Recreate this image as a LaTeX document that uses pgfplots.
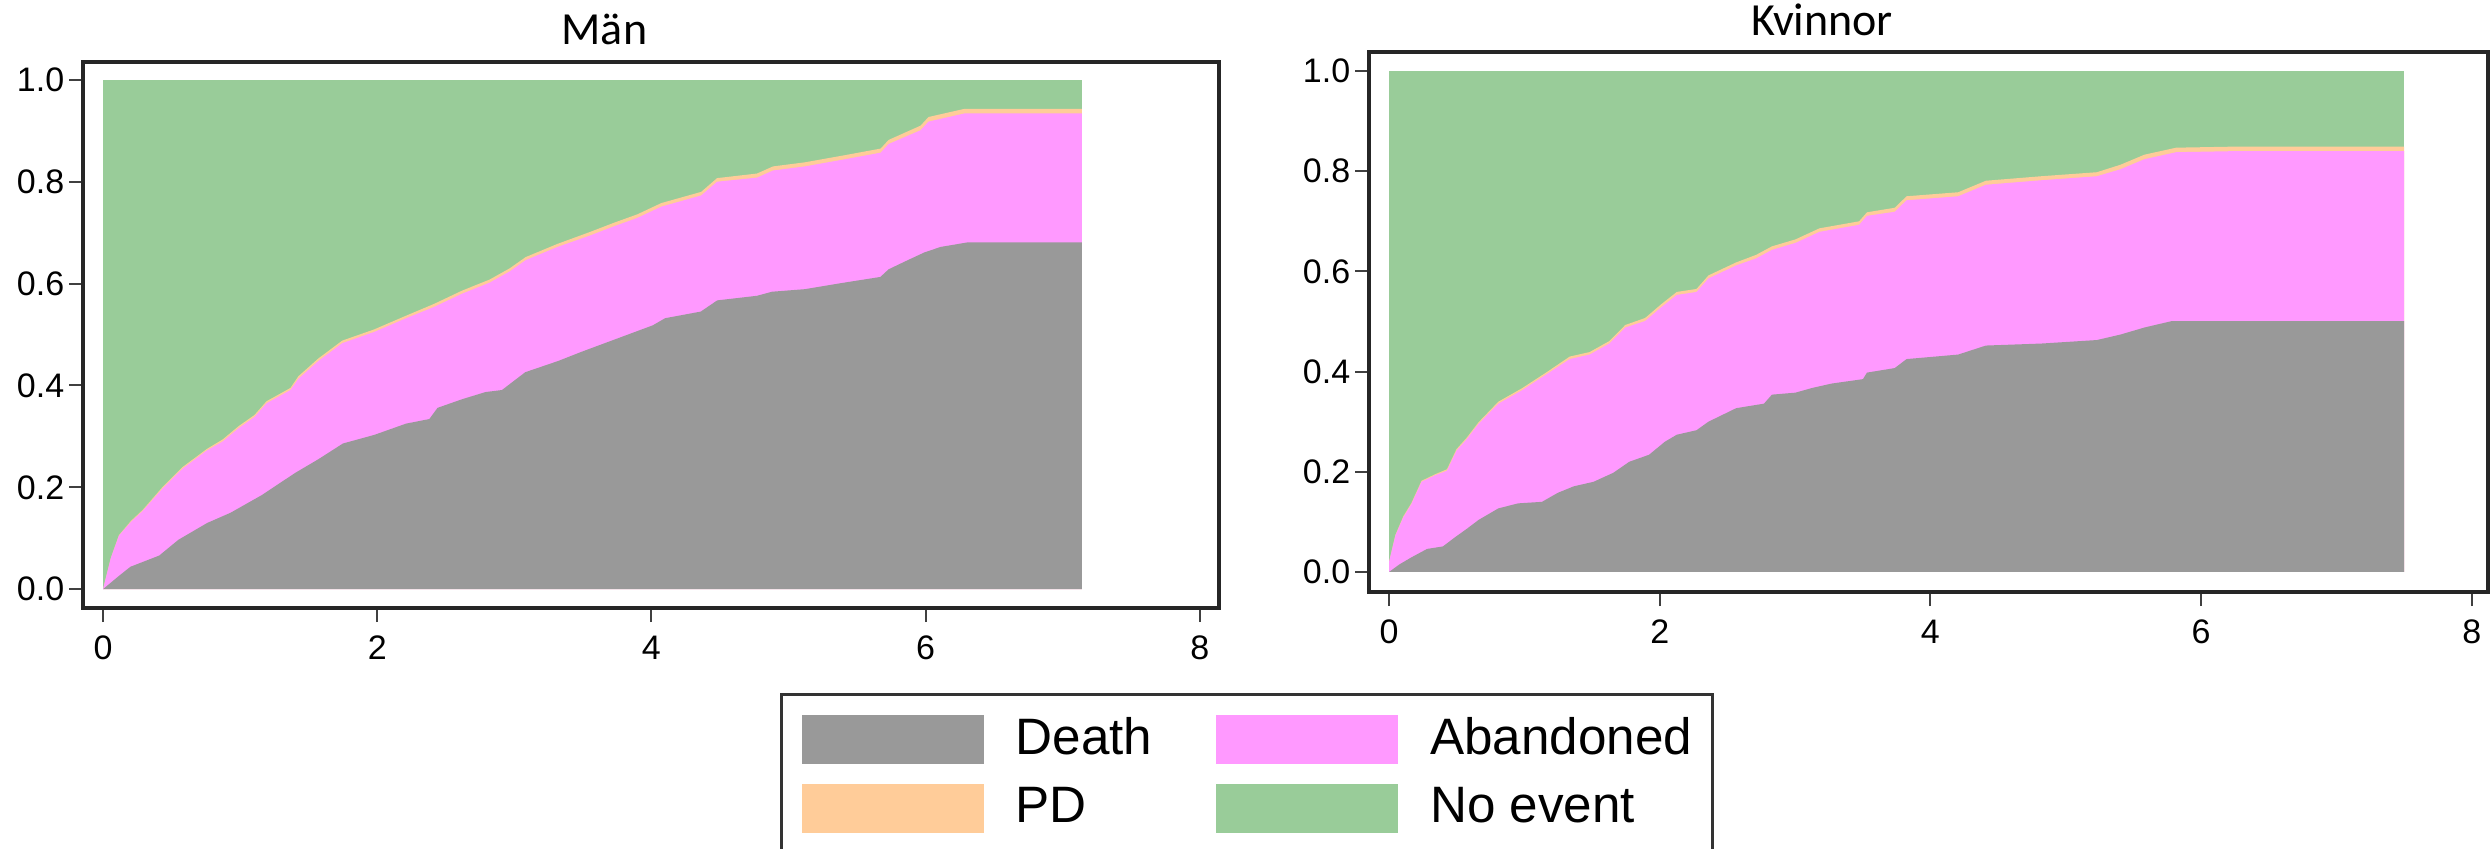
\documentclass[border=0pt]{standalone}
\usepackage{pgfplots}
\pgfplotsset{compat=1.18}
\usepackage{pgfplotstable}
\usepackage{fontspec}
\setmainfont{Liberation Sans}
\newfontfamily\titlefont{Carlito}
\definecolor{deathc}{RGB}{153,153,153}
\definecolor{abanc}{RGB}{255,153,255}
\definecolor{pdc}{RGB}{255,204,153}
\definecolor{noevc}{RGB}{153,204,153}

% Men: cumulative death+abandoned (c) and +PD (p)
\pgfplotstableread{
x c p
0 0 0
0.058 0.062 0.062
0.116 0.105 0.106
0.204 0.132 0.134
0.291 0.154 0.156
0.436 0.198 0.201
0.582 0.237 0.240
0.756 0.272 0.275
0.873 0.290 0.294
0.989 0.316 0.320
1.105 0.338 0.342
1.193 0.365 0.369
1.367 0.391 0.395
1.425 0.413 0.418
1.571 0.448 0.453
1.745 0.483 0.488
1.978 0.505 0.510
2.211 0.532 0.537
2.414 0.554 0.560
2.618 0.580 0.586
2.821 0.602 0.608
2.967 0.624 0.630
3.083 0.646 0.652
3.316 0.672 0.678
3.549 0.694 0.701
3.723 0.712 0.719
3.898 0.729 0.736
4.072 0.751 0.758
4.363 0.773 0.780
4.479 0.800 0.807
4.770 0.808 0.816
4.887 0.822 0.830
5.119 0.830 0.838
5.410 0.844 0.852
5.672 0.857 0.865
5.730 0.874 0.882
5.963 0.901 0.910
6.021 0.918 0.927
6.283 0.934 0.943
7.140 0.934 0.943
}\menCP

\pgfplotstableread{
x d
0 0
0.116 0.026
0.20 0.044
0.41 0.066
0.55 0.097
0.76 0.130
0.93 0.150
1.16 0.185
1.40 0.228
1.57 0.255
1.75 0.286
1.98 0.303
2.21 0.325
2.38 0.334
2.44 0.356
2.62 0.373
2.79 0.387
2.91 0.391
3.08 0.426
3.32 0.448
3.49 0.466
3.66 0.483
3.84 0.501
4.01 0.518
4.10 0.532
4.36 0.545
4.48 0.567
4.77 0.576
4.88 0.584
5.12 0.589
5.41 0.602
5.67 0.613
5.73 0.628
5.87 0.646
5.99 0.661
6.11 0.672
6.31 0.681
7.14 0.681
}\menD

% Women
\pgfplotstableread{
x c p
0 0 0
0 0.020 0.020
0.047 0.073 0.074
0.105 0.109 0.111
0.164 0.135 0.137
0.240 0.180 0.182
0.340 0.193 0.195
0.428 0.202 0.205
0.498 0.242 0.245
0.574 0.265 0.268
0.662 0.296 0.299
0.808 0.336 0.340
0.984 0.363 0.367
1.160 0.394 0.398
1.335 0.425 0.430
1.482 0.434 0.439
1.628 0.456 0.461
1.745 0.488 0.493
1.892 0.501 0.507
2.009 0.528 0.534
2.126 0.553 0.559
2.272 0.559 0.565
2.360 0.586 0.592
2.565 0.612 0.618
2.712 0.626 0.633
2.829 0.643 0.650
3.004 0.657 0.664
3.180 0.679 0.686
3.473 0.693 0.700
3.531 0.711 0.718
3.736 0.719 0.727
3.824 0.742 0.750
4.205 0.750 0.758
4.410 0.773 0.781
4.820 0.782 0.790
5.230 0.790 0.798
5.405 0.804 0.813
5.581 0.824 0.833
5.816 0.838 0.847
6.225 0.840 0.849
7.500 0.840 0.849
}\womCP

\pgfplotstableread{
x d
0 0
0.076 0.015
0.164 0.029
0.281 0.046
0.398 0.051
0.486 0.069
0.574 0.086
0.662 0.104
0.808 0.127
0.955 0.137
1.130 0.140
1.247 0.158
1.365 0.171
1.511 0.180
1.657 0.198
1.775 0.220
1.921 0.234
2.038 0.260
2.126 0.274
2.272 0.283
2.360 0.300
2.565 0.327
2.770 0.336
2.829 0.354
3.004 0.358
3.121 0.367
3.268 0.376
3.502 0.385
3.531 0.398
3.736 0.407
3.824 0.425
4.205 0.434
4.410 0.452
4.820 0.456
5.230 0.463
5.405 0.474
5.581 0.488
5.786 0.501
7.500 0.501
}\womD

\pgfplotsset{
  kmstyle/.style={
    scale only axis,
    anchor=south west,
    axis line style={black!85, line width=0.8pt},
    xtick={0,2,4,6,8},
    ytick={0,0.2,0.4,0.6,0.8,1.0},
    tick align=outside,
    tick pos=left,
    major tick length=3.5pt,
    every tick/.style={black!75, line width=0.5pt},
    ticklabel style={font=\fontsize{8.5}{10}\selectfont},
    /pgf/number format/assume math mode=true,
    yticklabel style={/pgf/number format/fixed, /pgf/number format/fixed zerofill, /pgf/number format/precision=1, inner xsep=1pt},
    every axis title shift=0pt,
    title style={anchor=base, font=\titlefont\fontsize{11.5}{13}\selectfont},
  }
}

\begin{document}
\begin{tikzpicture}
\useasboundingbox (0,0) rectangle (622.75pt,212pt);

\begin{axis}[kmstyle,
  at={(20.75pt,60pt)}, width=284pt, height=136.5pt,
  xmin=-0.146, xmax=8.14, ymin=-0.037, ymax=1.035,
  title={Män}, title style={at={(0.459,1)}, yshift=4.35pt},
  legend columns=2,
  legend cell align=left,
  legend image code/.code={\fill[#1] (0pt,-6.125pt) rectangle (45.5pt,6.125pt);},
  legend style={at={(0.6136,-0.1557)}, anchor=north west, draw=black!80, line width=0.8pt,
    inner xsep=5pt, inner ysep=5pt, font=\fontsize{12.8}{14}\selectfont,
    nodes={inner sep=0pt},
    row sep=5pt,
    /tikz/every odd column/.append style={column sep=8pt},
    /tikz/every even column/.append style={column sep=16pt}},
]
\addplot[fill=noevc, draw=none, forget plot] coordinates {(0,1) (7.14,1)} \closedcycle;
\addplot[fill=pdc, draw=none, forget plot] table[x=x, y=p] {\menCP} \closedcycle;
\addplot[fill=abanc, draw=none, forget plot] table[x=x, y=c] {\menCP} \closedcycle;
\addplot[fill=deathc, draw=none, forget plot] table[x=x, y=d] {\menD} \closedcycle;
\addlegendimage{fill=deathc, draw=none}
\addlegendentry{Death}
\addlegendimage{fill=abanc, draw=none}
\addlegendentry{Abandoned}
\addlegendimage{fill=pdc, draw=none}
\addlegendentry{PD}
\addlegendimage{fill=noevc, draw=none}
\addlegendentry{No event}
\end{axis}

\begin{axis}[kmstyle,
  at={(342.25pt,64pt)}, width=279.75pt, height=135pt,
  xmin=-0.148, xmax=8.12, ymin=-0.04, ymax=1.038,
  title={Kvinnor}, title style={at={(0.405,1)}, yshift=4.25pt},
]
\addplot[fill=noevc, draw=none] coordinates {(0,1) (7.5,1)} \closedcycle;
\addplot[fill=pdc, draw=none] table[x=x, y=p] {\womCP} \closedcycle;
\addplot[fill=abanc, draw=none] table[x=x, y=c] {\womCP} \closedcycle;
\addplot[fill=deathc, draw=none] table[x=x, y=d] {\womD} \closedcycle;
\end{axis}
\end{tikzpicture}
\end{document}
